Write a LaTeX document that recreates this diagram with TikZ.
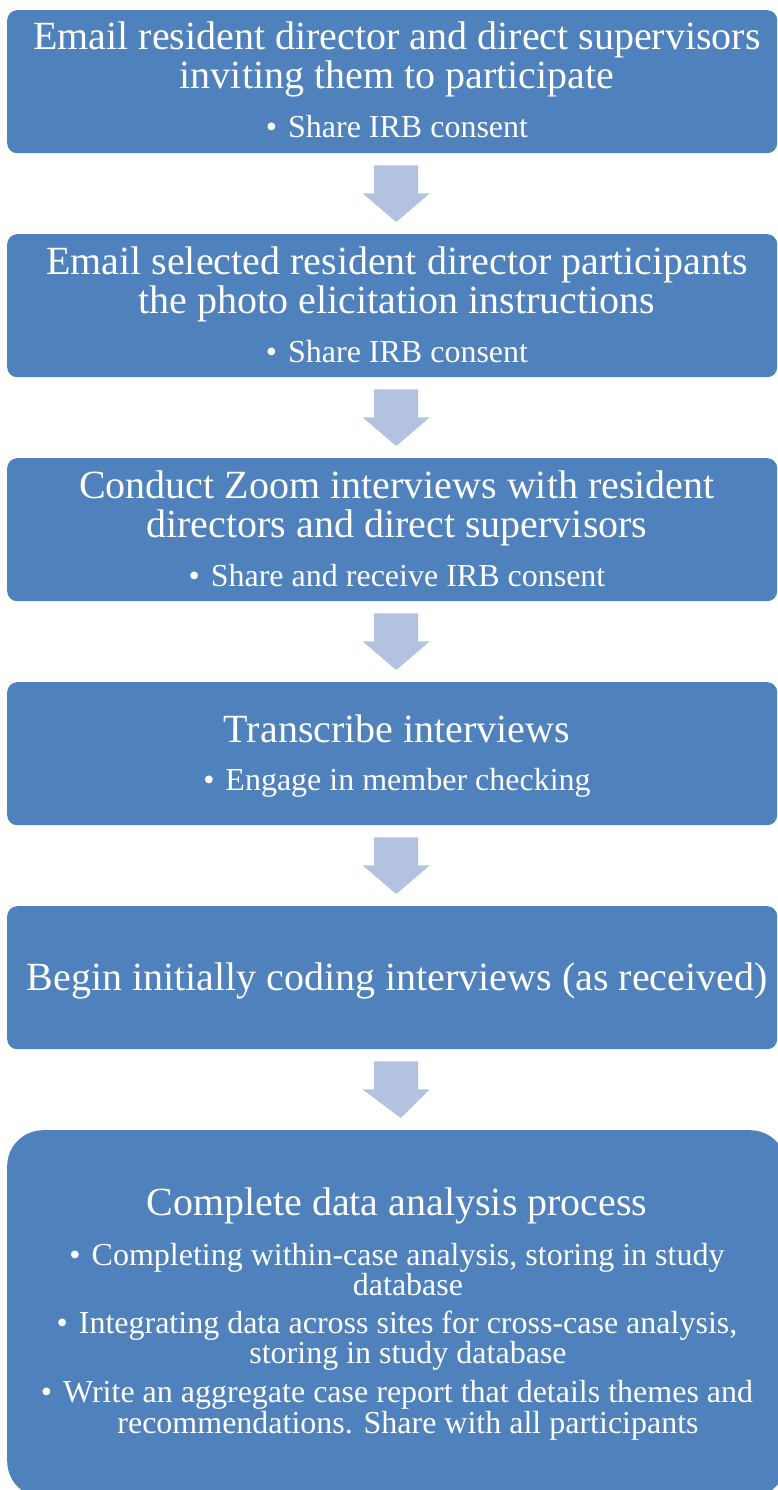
\documentclass[tikz,border=0pt]{standalone}
\usepackage{fontspec}
\setmainfont{Liberation Serif}
\usetikzlibrary{calc}
\definecolor{boxblue}{HTML}{4F81BD}
\definecolor{arrowblue}{HTML}{B2C2DF}
\tikzset{
  box/.style={fill=boxblue, draw=none, rounded corners=10pt, minimum width=770pt, minimum height=143pt, anchor=north west, inner sep=0pt},
  bigbox/.style={fill=boxblue, draw=none, rounded corners=36pt, minimum width=779pt, minimum height=367pt, anchor=north west, inner sep=0pt},
  ttl/.style={text=white, inner sep=0pt, anchor=base, font=\fontsize{40}{40}\selectfont},
  bul/.style={text=white, inner sep=0pt, anchor=base, font=\fontsize{32}{30}\selectfont},
  arrowfill/.style={fill=arrowblue, draw=none}
}
\newcommand\bult{\textbullet\hspace{11pt}}
\newcommand\flowarrow[2]{%
  \fill[arrowfill] ($(#1.south)+(-18,12)$) -- ($(#1.south)+(26,12)$) -- ($(#1.south)+(26,40)$) -- ($(#1.south)+(37.5,40)$) -- ($(#2.north)+(4,-12)$) -- ($(#1.south)+(-29.5,40)$) -- ($(#1.south)+(-18,40)$) -- cycle;}
\begin{document}
\begin{tikzpicture}[x=1pt,y=-1pt]
\useasboundingbox (0,0) rectangle (778,1490);
\clip (0,0) rectangle (778,1490);
\fill[white] (0,0) rectangle (778,1490);
% boxes
\node[box] (b1) at (7,10) {};
\node[box] (b2) at (7,234) {};
\node[box] (b3) at (7,458) {};
\node[box] (b4) at (7,682) {};
\node[box] (b5) at (7,906) {};
\node[bigbox] (b6) at (7,1130) {};
% arrows
\flowarrow{b1}{b2}
\flowarrow{b2}{b3}
\flowarrow{b3}{b4}
\flowarrow{b4}{b5}
\flowarrow{b5}{b6}
% box 1
\node[ttl] (t1a) at (397,50) {Email resident director and direct supervisors};
\node[ttl] (t1b) at (397,89) {inviting them to participate};
\node[bul] (t1c) at (397,138) {\bult Share IRB consent};
% box 2
\node[ttl] (t2a) at (397,274) {Email selected resident director participants};
\node[ttl] (t2b) at (397,313) {the photo elicitation instructions};
\node[bul] (t2c) at (397,362) {\bult Share IRB consent};
% box 3
\node[ttl] (t3a) at (397,498) {Conduct Zoom interviews with resident};
\node[ttl] (t3b) at (397,537) {directors and direct supervisors};
\node[bul] (t3c) at (397,586) {\bult Share and receive IRB consent};
% box 4
\node[ttl] (t4a) at (397,742) {Transcribe interviews};
\node[bul] (t4b) at (397,790) {\bult Engage in member checking};
% box 5
\node[ttl] (t5a) at (397,990) {Begin initially coding interviews (as received)};
% box 6
\node[ttl] (t6a) at (397,1215) {Complete data analysis process};
\node[bul] (t6b) at (397,1265) {\bult Completing within-case analysis, storing in study};
\node[bul] (t6c) at (408,1295) {database};
\node[bul] (t6d) at (397,1333) {\bult Integrating data across sites for cross-case analysis,};
\node[bul] (t6e) at (408,1363) {storing in study database};
\node[bul] (t6f) at (397,1402) {\bult Write an aggregate case report that details themes and};
\node[bul] (t6g) at (408,1433) {recommendations. Share with all participants};
\end{tikzpicture}
\end{document}
